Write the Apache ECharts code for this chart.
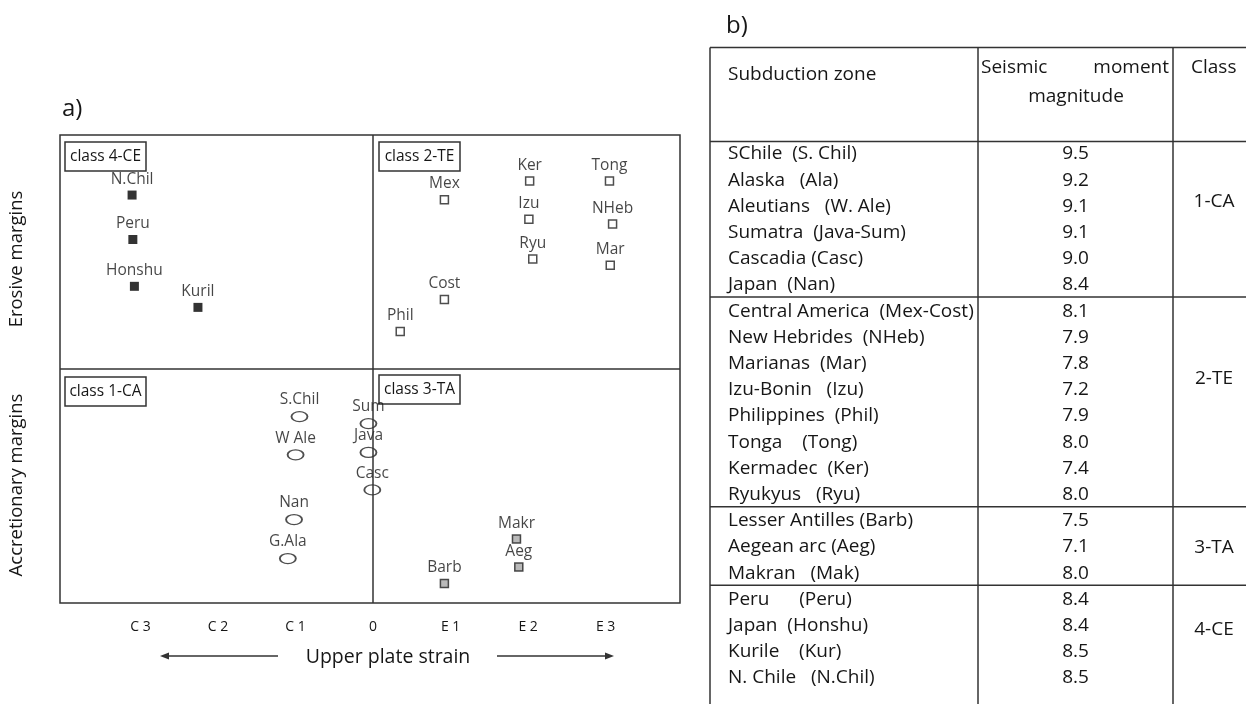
<!DOCTYPE html>
<html>
<head>
<meta charset="utf-8">
<script src="https://cdn.jsdelivr.net/npm/echarts@6/dist/echarts.min.js"></script>
<style>
html,body{margin:0;padding:0;background:#fff;}
#c{width:1246px;height:704px;}
</style>
</head>
<body>
<div id="c"></div>
<script>
// ---------- Panel a) data ----------
const xTickValues = [-3, -2, -1, 0, 1, 2, 3];
const xTickLabels = ['C 3', 'C 2', 'C 1', '0', 'E 1', 'E 2', 'E 3'];

// class 4-CE (filled squares)
const ceNames = ['N.Chil', 'Peru', 'Honshu', 'Kuril'];
const ceX = [-3.11, -3.10, -3.08, -2.26];
const ceY = [2.23, 1.66, 1.06, 0.79];

// class 2-TE (open squares)
const teNames = ['Mex', 'Ker', 'Tong', 'Izu', 'NHeb', 'Ryu', 'Mar', 'Cost', 'Phil'];
const teX = [0.92, 2.02, 3.05, 2.01, 3.09, 2.06, 3.06, 0.92, 0.35];
const teY = [2.17, 2.41, 2.41, 1.92, 1.86, 1.41, 1.33, 0.89, 0.48];

// class 1-CA (ellipses)
const caNames = ['S.Chil', 'W Ale', 'Nan', 'G.Ala', 'Sum', 'Java', 'Casc'];
const caX = [-0.95, -1.00, -1.02, -1.10, -0.06, -0.06, -0.01];
const caY = [-0.61, -1.10, -1.93, -2.43, -0.70, -1.07, -1.55];

// class 3-TA (grey squares)
const taNames = ['Makr', 'Aeg', 'Barb'];
const taX = [1.85, 1.88, 0.92];
const taY = [-2.18, -2.54, -2.75];

const classBoxLabels = ['class 4-CE', 'class 2-TE', 'class 1-CA', 'class 3-TA'];

// ---------- Panel b) table data ----------
const tableZones = [
  'SChile  (S. Chil)', 'Alaska   (Ala)', 'Aleutians   (W. Ale)', 'Sumatra  (Java-Sum)',
  'Cascadia (Casc)', 'Japan  (Nan)',
  'Central America  (Mex-Cost)', 'New Hebrides  (NHeb)', 'Marianas  (Mar)', 'Izu-Bonin   (Izu)',
  'Philippines  (Phil)', 'Tonga    (Tong)', 'Kermadec  (Ker)', 'Ryukyus   (Ryu)',
  'Lesser Antilles (Barb)', 'Aegean arc (Aeg)', 'Makran   (Mak)',
  'Peru      (Peru)', 'Japan  (Honshu)', 'Kurile    (Kur)', 'N. Chile   (N.Chil)'
];
const tableMagnitudes = [9.5, 9.2, 9.1, 9.1, 9.0, 8.4, 8.1, 7.9, 7.8, 7.2, 7.9, 8.0, 7.4, 8.0, 7.5, 7.1, 8.0, 8.4, 8.4, 8.5, 8.5];
const groupSizes = [6, 8, 3, 4];
const groupClasses = ['1-CA', '2-TE', '3-TA', '4-CE'];

// ---------- build ----------
const FONT = '"Open Sans", "Noto Sans", sans-serif';
const ink = '#161616';
const lineCol = '#333333';

function pts(xs, ys, names) { return xs.map((x, i) => [x, ys[i], names[i]]); }

const labelCfg = {
  show: true, position: 'top', distance: 3,
  formatter: p => p.data[2],
  fontFamily: FONT, fontSize: 15.5, color: ink
};

const chart = echarts.init(document.getElementById('c'), null, { renderer: 'canvas' });

const G = { left: 60, top: 135, width: 620, height: 468 };

const graphics = [];
function txt(x, y, text, size, align, extra) {
  graphics.push(Object.assign({
    type: 'text', x: x, y: y, silent: true,
    style: { text: text, font: size + 'px ' + FONT, fill: ink, textAlign: align || 'left', textVerticalAlign: 'middle' }
  }, extra || {}));
}
function ln(x1, y1, x2, y2, w) {
  graphics.push({ type: 'line', silent: true, shape: { x1, y1, x2, y2 }, style: { stroke: lineCol, lineWidth: w || 1.5 } });
}

// panel labels
txt(62, 109, 'a)', 24);
txt(726, 26, 'b)', 24);

// y-axis side titles
txt(17, 259, 'Erosive margins', 18.5, 'center', { rotation: Math.PI / 2 });
txt(17, 485, 'Accretionary margins', 18.5, 'center', { rotation: Math.PI / 2 });

// x-axis title + arrows
txt(388, 657, 'Upper plate strain', 19.5, 'center');
ln(278, 656, 166, 656, 1.3);
graphics.push({ type: 'polygon', silent: true, shape: { points: [[160, 656], [169, 652.5], [169, 659.5]] }, style: { fill: lineCol } });
ln(497, 656, 608, 656, 1.3);
graphics.push({ type: 'polygon', silent: true, shape: { points: [[614, 656], [605, 652.5], [605, 659.5]] }, style: { fill: lineCol } });

// class boxes
const boxPos = [[65, 142], [379, 142], [65, 377], [379, 375]];
classBoxLabels.forEach((t, i) => {
  const [bx, by] = boxPos[i];
  graphics.push({ type: 'rect', silent: true, shape: { x: bx, y: by, width: 81, height: 29 }, style: { fill: '#fff', stroke: lineCol, lineWidth: 1.5 } });
  txt(bx + 40.5, by + 15, t, 15.5, 'center');
});

// table frame
const T = { left: 710, right: 1246, top: 47.5, head: 141.5, bottom: 704, col1: 978, col2: 1173, row0: 154, pitch: 26.2 };
ln(T.left, T.top, T.right, T.top);
ln(T.left, T.head, T.right, T.head);
ln(T.left, T.top, T.left, T.bottom);
ln(T.col1, T.top, T.col1, T.bottom);
ln(T.col2, T.top, T.col2, T.bottom);

// header
txt(728, 75, 'Subduction zone', 19);
txt(981, 68, 'Seismic', 19);
txt(1169, 68, 'moment', 19, 'right');
txt(1076, 97, 'magnitude', 19, 'center');
txt(1191, 68, 'Class', 19);

// rows
tableZones.forEach((z, i) => {
  const y = T.row0 + T.pitch * i;
  txt(728, y, z, 19);
  txt((T.col1 + T.col2) / 2, y, tableMagnitudes[i].toFixed(1), 19, 'center');
});
// group separators and class labels
const classLabelOffsets = [1.83, 2.59, 1.04, 1.17];
let start = 0;
groupSizes.forEach((n, g) => {
  if (g > 0) {
    const ySep = T.row0 + T.pitch * (start - 0.5) - 1;
    ln(T.left, ySep, T.right, ySep);
  }
  txt(1214, T.row0 + T.pitch * (start + classLabelOffsets[g]), groupClasses[g], 19, 'center');
  start += n;
});

const option = {
  backgroundColor: '#fff',
  animation: false,
  grid: Object.assign({ show: true, borderColor: lineCol, borderWidth: 1.5, backgroundColor: 'transparent' }, G),
  xAxis: {
    type: 'value', min: -4.04, max: 3.96,
    axisLine: { show: false }, axisTick: { show: false }, splitLine: { show: false },
    axisLabel: {
      customValues: xTickValues,
      formatter: v => xTickLabels[xTickValues.indexOf(Math.round(v))] || '',
      fontFamily: FONT, fontSize: 14, color: ink, margin: 17
    }
  },
  yAxis: {
    type: 'value', min: -3, max: 3,
    axisLine: { show: false }, axisTick: { show: false }, splitLine: { show: false }, axisLabel: { show: false }
  },
  series: [
    {
      type: 'scatter', name: 'ref', data: [], silent: true,
      markLine: {
        silent: true, symbol: 'none', label: { show: false },
        lineStyle: { type: 'solid', color: lineCol, width: 1.5 },
        data: [{ xAxis: 0 }, { yAxis: 0 }]
      }
    },
    {
      type: 'scatter', name: '4-CE', data: pts(ceX, ceY, ceNames),
      symbol: 'rect', symbolSize: 9,
      itemStyle: { color: '#000', borderColor: '#000', borderWidth: 0 },
      label: labelCfg
    },
    {
      type: 'scatter', name: '2-TE', data: pts(teX, teY, teNames),
      symbol: 'rect', symbolSize: 8,
      itemStyle: { color: '#fff', borderColor: '#222', borderWidth: 1.5 },
      label: labelCfg
    },
    {
      type: 'scatter', name: '1-CA', data: pts(caX, caY, caNames),
      symbol: 'circle', symbolSize: [16, 10],
      itemStyle: { color: '#fff', borderColor: '#222', borderWidth: 1.5 },
      label: labelCfg
    },
    {
      type: 'scatter', name: '3-TA', data: pts(taX, taY, taNames),
      symbol: 'rect', symbolSize: 8,
      itemStyle: { color: '#a8a8a8', borderColor: '#222', borderWidth: 1.5 },
      label: labelCfg
    }
  ],
  graphic: graphics
};
chart.setOption(option);
</script>
</body>
</html>
